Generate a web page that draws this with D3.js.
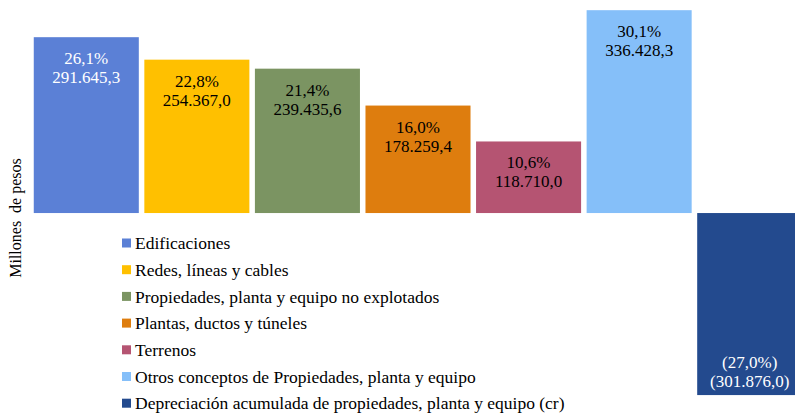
<!DOCTYPE html>
<html>
<head>
<meta charset="utf-8">
<script src="https://cdn.jsdelivr.net/npm/d3@7"></script>
<style>
  html, body { margin: 0; padding: 0; background: #fff; }
  svg { display: block; }
</style>
</head>
<body>
<svg id="chart" width="795" height="415"></svg>
<script>
var categories = [
    'Edificaciones',
    'Redes, líneas y cables',
    'Propiedades, planta y equipo no explotados',
    'Plantas, ductos y túneles',
    'Terrenos',
    'Otros conceptos de Propiedades, planta y equipo',
    'Depreciación acumulada de propiedades, planta y equipo (cr)'
];
var values = [291645.3, 254367.0, 239435.6, 178259.4, 118710.0, 336428.3, -301876.0];
var shares = [26.1, 22.8, 21.4, 16.0, 10.6, 30.1, -27.0];
var colors = ['#5b80d6', '#ffc000', '#7b9462', '#de7d0e', '#b55472', '#85bff9', '#234a8e'];
var labelColors = ['#fff', '#000', '#000', '#000', '#000', '#000', '#fff'];

var svg = d3.select('#chart');
var serif = "'Liberation Serif', 'Times New Roman', serif";

// 291645.3 -> "291.645,3", negatives in brackets
var fmtNum = function (v) {
    var s = d3.format(',.1f')(Math.abs(v));
    s = s.replace(/,/g, '#').replace('.', ',').replace(/#/g, '.');
    return v < 0 ? '(' + s + ')' : s;
};
var fmtPct = function (v) {
    var s = Math.abs(v).toFixed(1).replace('.', ',') + '%';
    return v < 0 ? '(' + s + ')' : s;
};

var x = d3.scaleBand()
    .domain(d3.range(categories.length))
    .range([31, 805])
    .paddingInner(0.05)
    .paddingOuter(0.025);

var y = d3.scaleLinear()
    .domain([-320000, 350000])
    .range([406, 2]);

// bars
svg.selectAll('rect.bar')
    .data(values)
    .enter()
    .append('rect')
    .attr('class', 'bar')
    .attr('x', (d, i) => x(i))
    .attr('width', x.bandwidth())
    .attr('y', d => y(Math.max(0, d)))
    .attr('height', d => Math.abs(y(d) - y(0)))
    .attr('fill', (d, i) => colors[i]);

// data labels, inside end of each bar
var lbl = svg.selectAll('text.lbl')
    .data(values)
    .enter()
    .append('text')
    .attr('class', 'lbl')
    .attr('text-anchor', 'middle')
    .attr('font-family', serif)
    .attr('font-size', 17)
    .attr('fill', (d, i) => labelColors[i])
    .attr('x', (d, i) => x(i) + x.bandwidth() / 2)
    .attr('y', d => d >= 0 ? y(d) + 27 : y(d) - 27);
lbl.append('tspan')
    .attr('x', function () { return d3.select(this.parentNode).attr('x'); })
    .text((d, i) => fmtPct(shares[i]));
lbl.append('tspan')
    .attr('x', function () { return d3.select(this.parentNode).attr('x'); })
    .attr('dy', 19)
    .text(d => fmtNum(d));

// y axis title
svg.append('text')
    .attr('transform', 'translate(21,218) rotate(-90)')
    .attr('text-anchor', 'middle')
    .attr('font-family', serif)
    .attr('font-size', 16)
    .attr('fill', '#000')
    .attr('xml:space', 'preserve')
    .text('Millones  de pesos');

// legend
var legend = svg.append('g').attr('transform', 'translate(122,243)');
var item = legend.selectAll('g')
    .data(categories)
    .enter()
    .append('g')
    .attr('transform', (d, i) => 'translate(0,' + (i * 26.7) + ')');
item.append('rect')
    .attr('x', 0)
    .attr('y', -4.5)
    .attr('width', 9)
    .attr('height', 9)
    .attr('fill', (d, i) => colors[i]);
item.append('text')
    .attr('x', 13)
    .attr('dy', '0.35em')
    .attr('font-family', serif)
    .attr('font-size', 17.5)
    .attr('fill', '#000')
    .text(d => d);
</script>
</body>
</html>
